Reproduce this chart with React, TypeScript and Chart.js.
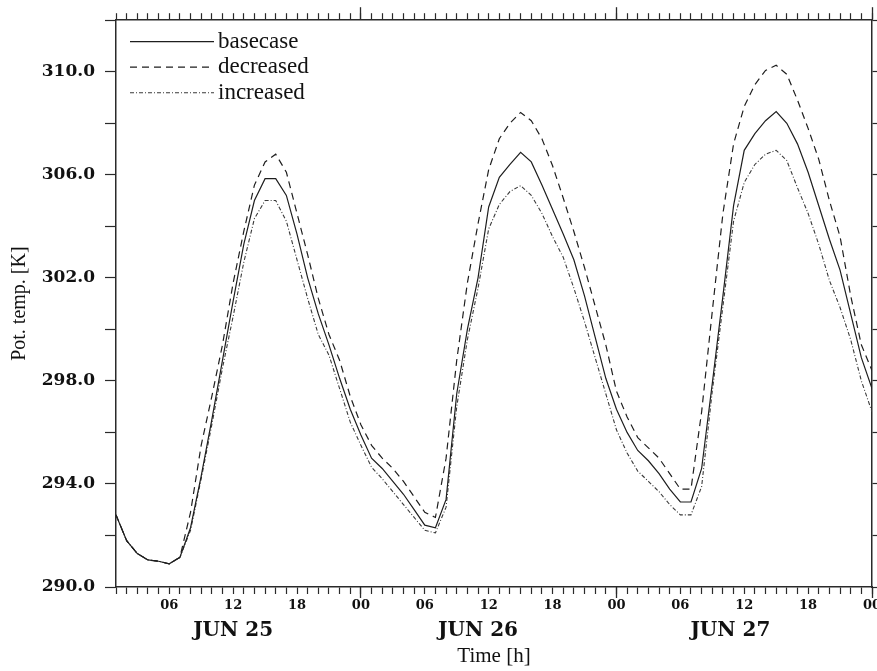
import React, { useEffect, useRef } from 'react';
import { Chart, registerables } from 'chart.js';

Chart.register(...registerables);

// Hours since Jun 25 00:00 (hourly samples, Jun 25 01:00 .. Jun 28 00:00)
const HOURS = [
  1, 2, 3, 4, 5, 6, 7, 8, 9, 10, 11, 12, 13, 14, 15, 16, 17, 18, 19, 20, 21, 22, 23, 24,
  25, 26, 27, 28, 29, 30, 31, 32, 33, 34, 35, 36, 37, 38, 39, 40, 41, 42, 43, 44, 45, 46, 47, 48,
  49, 50, 51, 52, 53, 54, 55, 56, 57, 58, 59, 60, 61, 62, 63, 64, 65, 66, 67, 68, 69, 70, 71, 72,
];

const BASECASE = [
  292.8, 291.8, 291.3, 291.05, 291.0, 290.9, 291.15, 292.3, 294.3, 296.5, 298.8, 301.1,
  303.3, 305.0, 305.85, 305.85, 305.2, 303.7, 302.0, 300.6, 299.4, 298.1, 296.9, 295.9,
  295.0, 294.6, 294.1, 293.6, 293.0, 292.4, 292.3, 293.4, 297.5, 300.0, 302.0, 304.75,
  305.9, 306.4, 306.87, 306.5, 305.6, 304.65, 303.7, 302.7, 301.3, 299.7, 298.1, 296.9,
  296.0, 295.3, 294.9, 294.4, 293.8, 293.3, 293.3, 294.6, 297.9, 301.3, 304.8, 306.95,
  307.6, 308.1, 308.45, 308.0, 307.2, 306.1, 304.8, 303.5, 302.3, 300.6, 298.9, 297.7,
];

const DECREASED = [
  292.8, 291.8, 291.3, 291.05, 291.0, 290.9, 291.15, 292.9, 295.5, 297.4, 299.4, 301.8,
  303.8, 305.6, 306.5, 306.8, 306.1, 304.5, 302.9, 301.2, 299.8, 298.8, 297.4, 296.3,
  295.5, 295.0, 294.6, 294.1, 293.5, 292.9, 292.7, 295.0, 298.8, 301.8, 304.1, 306.2,
  307.4, 308.0, 308.42, 308.1, 307.4, 306.35, 305.1, 303.8, 302.4, 300.9, 299.4, 297.6,
  296.6, 295.8, 295.4, 295.0, 294.4, 293.8, 293.8, 296.8, 300.7, 304.5, 307.2, 308.65,
  309.5, 310.05, 310.25, 309.9, 308.9, 307.8, 306.6, 305.0, 303.6, 301.3, 299.4, 298.4,
];

const INCREASED = [
  292.8, 291.8, 291.3, 291.05, 291.0, 290.9, 291.15, 292.2, 294.2, 296.3, 298.5, 300.5,
  302.6, 304.3, 305.0, 305.0, 304.2, 302.7, 301.2, 299.8, 299.0, 297.7, 296.4, 295.5,
  294.65, 294.2, 293.7, 293.2, 292.7, 292.2, 292.1, 293.1, 297.0, 299.6, 301.6, 303.9,
  304.85, 305.35, 305.58, 305.2, 304.5, 303.6, 302.8, 301.6, 300.3, 298.9, 297.5, 296.1,
  295.2, 294.5, 294.1, 293.7, 293.2, 292.8, 292.8, 293.9, 297.6, 300.9, 304.2, 305.7,
  306.4, 306.8, 306.95, 306.55, 305.5, 304.5, 303.3, 301.9, 300.85, 299.6, 298.0, 296.8,
];

const SERIES_NAMES = ['basecase', 'decreased', 'increased'];

const X_MIN = 1;
const X_MAX = 72;
const Y_MIN = 290;
const Y_MAX = 312;

const Y_TICKS = [290, 292, 294, 296, 298, 300, 302, 304, 306, 308, 310, 312];
const Y_LABEL_VALUES = [290, 294, 298, 302, 306, 310];

const HOUR_LABEL_TICKS = [6, 12, 18, 24, 30, 36, 42, 48, 54, 60, 66, 72];
const HOUR_LABELS = ['06', '12', '18', '00', '06', '12', '18', '00', '06', '12', '18', '00'];
const DAY_TICKS = [24, 48, 72];
const DATE_TICKS = [12, 35, 58.7];
const DATE_LABELS = ['JUN 25', 'JUN 26', 'JUN 27'];

const AXIS_COLOR = '#2a2a2a';
const TEXT_COLOR = '#111';
const SERIF = "'DejaVu Serif', serif";
const TIMES = "'Liberation Serif', 'Times New Roman', serif";

const fixWidth = (w: number) => (s: any) => { s.width = w; };
const fixHeight = (h: number) => (s: any) => { s.height = h; };
const setTicks = (vals: number[]) => (s: any) => { s.ticks = vals.map((v) => ({ value: v })); };

const insetLegend = {
  id: 'insetLegend',
  afterDatasetsDraw(chart: any) {
    const { ctx, chartArea } = chart;
    chart.data.datasets.forEach((ds: any, i: number) => {
      const y = chartArea.top + 21.5 + i * 25.5;
      ctx.save();
      ctx.strokeStyle = ds.borderColor;
      ctx.lineWidth = ds.borderWidth;
      ctx.setLineDash(ds.borderDash || []);
      ctx.beginPath();
      ctx.moveTo(chartArea.left + 14, y);
      ctx.lineTo(chartArea.left + 98, y);
      ctx.stroke();
      ctx.setLineDash([]);
      ctx.fillStyle = TEXT_COLOR;
      ctx.font = `23px ${TIMES}`;
      ctx.textBaseline = 'middle';
      ctx.textAlign = 'left';
      ctx.fillText(ds.label, chartArea.left + 102, y);
      ctx.restore();
    });
  },
};

export default function App() {
  const ref = useRef<HTMLCanvasElement>(null);

  useEffect(() => {
    if (!ref.current) return;
    const toPoints = (vals: number[]) => vals.map((v, i) => ({ x: HOURS[i], y: v }));
    const chart = new Chart(ref.current, {
      type: 'line',
      data: {
        datasets: [
          {
            label: SERIES_NAMES[0],
            data: toPoints(BASECASE),
            borderColor: '#1e1e1e',
            borderWidth: 1.2,
            pointRadius: 0,
            tension: 0,
          },
          {
            label: SERIES_NAMES[1],
            data: toPoints(DECREASED),
            borderColor: '#1e1e1e',
            borderWidth: 1.2,
            borderDash: [7, 5],
            pointRadius: 0,
            tension: 0,
          },
          {
            label: SERIES_NAMES[2],
            data: toPoints(INCREASED),
            borderColor: '#3a3a3a',
            borderWidth: 1.1,
            borderDash: [4, 2, 1, 2],
            pointRadius: 0,
            tension: 0,
          },
        ],
      },
      options: {
        animation: false,
        responsive: true,
        maintainAspectRatio: false,
        layout: { padding: 0 },
        plugins: {
          legend: { display: false },
          tooltip: { enabled: false },
        },
        scales: {
          x00: {
            type: 'linear', position: 'bottom', min: X_MIN, max: X_MAX, weight: 0,
            afterBuildTicks: setTicks(DAY_TICKS), afterFit: fixHeight(0),
            grid: { drawOnChartArea: false, tickLength: 11, tickColor: AXIS_COLOR, tickWidth: 1.3 },
            border: { display: false },
            ticks: { display: false },
          },
          x: {
            type: 'linear', position: 'bottom', min: X_MIN, max: X_MAX, weight: 1,
            afterBuildTicks: setTicks(HOURS), afterFit: fixHeight(28),
            grid: { drawOnChartArea: false, tickLength: 7, tickColor: AXIS_COLOR, tickWidth: 1.2 },
            border: { color: AXIS_COLOR, width: 1.5 },
            ticks: {
              autoSkip: false, maxRotation: 0, padding: 4, color: TEXT_COLOR,
              font: { family: SERIF, size: 13, weight: 'bold' },
              callback: (v: any) => {
                const i = HOUR_LABEL_TICKS.indexOf(Number(v));
                return i >= 0 ? HOUR_LABELS[i] : '';
              },
            },
          },
          xd: {
            type: 'linear', position: 'bottom', min: X_MIN, max: X_MAX, weight: 2,
            afterBuildTicks: setTicks(DATE_TICKS), afterFit: fixHeight(56),
            grid: { display: false, drawTicks: false },
            border: { display: false },
            ticks: {
              autoSkip: false, maxRotation: 0, padding: 4, color: TEXT_COLOR,
              font: { family: SERIF, size: 20, weight: 'bold' },
              callback: (v: any) => {
                const i = DATE_TICKS.indexOf(Number(v));
                return i >= 0 ? DATE_LABELS[i] : '';
              },
            },
            title: {
              display: true, text: 'Time [h]', color: TEXT_COLOR,
              font: { family: TIMES, size: 21 }, padding: { top: 0, bottom: 2 },
            },
          },
          xt00: {
            type: 'linear', position: 'top', min: X_MIN, max: X_MAX, weight: 0,
            afterBuildTicks: setTicks(DAY_TICKS), afterFit: fixHeight(0),
            grid: { drawOnChartArea: false, tickLength: 13, tickColor: AXIS_COLOR, tickWidth: 1.3 },
            border: { display: false },
            ticks: { display: false },
          },
          xt: {
            type: 'linear', position: 'top', min: X_MIN, max: X_MAX, weight: 1,
            afterBuildTicks: setTicks(HOURS), afterFit: fixHeight(20),
            grid: { drawOnChartArea: false, tickLength: 7, tickColor: AXIS_COLOR, tickWidth: 1.2 },
            border: { color: AXIS_COLOR, width: 1.5 },
            ticks: { display: false },
          },
          y: {
            type: 'linear', position: 'left', min: Y_MIN, max: Y_MAX,
            afterBuildTicks: setTicks(Y_TICKS), afterFit: fixWidth(116),
            grid: { drawOnChartArea: false, tickLength: 11, tickColor: AXIS_COLOR, tickWidth: 1.2 },
            border: { color: AXIS_COLOR, width: 1.5 },
            ticks: {
              padding: 10, color: TEXT_COLOR,
              font: { family: SERIF, size: 17, weight: 'bold' },
              callback: (v: any) => (Y_LABEL_VALUES.indexOf(Number(v)) >= 0 ? Number(v).toFixed(1) : ''),
            },
            title: {
              display: true, text: 'Pot. temp. [K]', color: TEXT_COLOR,
              font: { family: TIMES, size: 20 }, padding: { top: 8, bottom: 0 },
            },
          },
          y2: {
            type: 'linear', position: 'right', min: Y_MIN, max: Y_MAX,
            afterBuildTicks: setTicks(Y_TICKS), afterFit: fixWidth(28),
            grid: { drawOnChartArea: false, tickLength: 7, tickColor: AXIS_COLOR, tickWidth: 1.2 },
            border: { color: AXIS_COLOR, width: 1.5 },
            ticks: { display: false },
          },
        },
      } as any,
      plugins: [insetLegend],
    });
    return () => chart.destroy();
  }, []);

  return (
    <div style={{ position: 'fixed', left: 0, top: 0, width: 877, height: 671, overflow: 'hidden', background: '#fff' }}>
      <div style={{ position: 'relative', width: 900, height: 671 }}>
        <canvas ref={ref} />
      </div>
    </div>
  );
}
